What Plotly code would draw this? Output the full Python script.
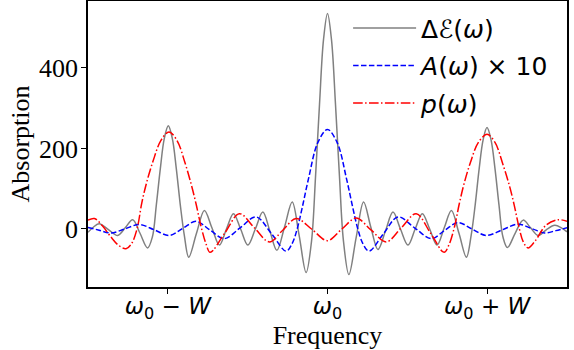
import plotly.graph_objects as go

# ---- data (x in units of W, relative to omega_0) ----
gray_x = [-1.5, -1.465, -1.43, -1.37, -1.314, -1.267, -1.22, -1.175, -1.127, -1.097, -1.072, -1.047,
          -1.022, -0.997, -0.972, -0.947, -0.922, -0.897, -0.869, -0.82, -0.771, -0.724, -0.677,
          -0.633, -0.589, -0.544, -0.499, -0.452, -0.405, -0.361, -0.317, -0.269, -0.221, -0.178,
          -0.134, -0.1, -0.075, -0.05, -0.025, 0.0, 0.025, 0.05, 0.075, 0.1, 0.134, 0.18, 0.226,
          0.271, 0.316, 0.363, 0.41, 0.457, 0.504, 0.549, 0.594, 0.64, 0.686, 0.731, 0.776, 0.823,
          0.87, 0.9, 0.925, 0.95, 0.975, 0.999, 1.024, 1.049, 1.074, 1.099, 1.127, 1.176, 1.225,
          1.272, 1.319, 1.37, 1.423, 1.465, 1.5]
gray_y = [-8, 5, 13, -2, -16, 3, 23, -10, -47, -20, 60, 150,
          225, 256, 225, 150, 60, -15, -70, -10, 46, 3, -40,
          0, 38, 0, -40, 0, 42, -5, -53, 5, 67, -15,
          -108, -30, 130, 310, 470, 535, 470, 310, 130, -30, -113, -20, 67,
          5, -51, -5, 42, 0, -40, 0, 38, 0, -40, 3, 46, -10,
          -70, -15, 60, 150, 222, 252, 222, 150, 60, -20, -46, -10, 22,
          3, -16, -2, 9, 3, -7]

blue_x = [-1.5, -1.43, -1.356, -1.27, -1.179, -1.085, -0.99, -0.905, -0.823, -0.735, -0.646,
          -0.547, -0.447, -0.35, -0.259, -0.22, -0.19, -0.16, -0.12, -0.06, 0.0, 0.06, 0.12,
          0.16, 0.19, 0.22, 0.26, 0.35, 0.441, 0.545, 0.65, 0.735, 0.817, 0.905, 0.995, 1.095,
          1.194, 1.28, 1.36, 1.43, 1.5]
blue_y = [4, -3, -10, 0, 11, -2, -16, 2, 19, -3, -24,
          3, 30, -12, -55, -35, 0, 50, 123, 215, 247, 215, 123,
          50, 0, -35, -55, -12, 30, 3, -24, -3, 16, 0, -16, -2,
          12, 1, -10, -4, 3]

red_x = [-1.5, -1.46, -1.41, -1.36, -1.31, -1.262, -1.228, -1.193, -1.163, -1.133, -1.093,
         -1.043, -0.993, -0.943, -0.893, -0.853, -0.823, -0.793, -0.76, -0.735, -0.643, -0.552,
         -0.458, -0.364, -0.28, -0.196, -0.1, 0.0, 0.09, 0.18, 0.274, 0.368, 0.462, 0.556, 0.645,
         0.73, 0.76, 0.795, 0.825, 0.855, 0.895, 0.945, 0.999, 1.049, 1.099, 1.139, 1.169, 1.199,
         1.226, 1.256, 1.3, 1.37, 1.444, 1.5]
red_y = [22, 26, 8, -18, -40, -49, -37, 0, 65, 115, 168,
         220, 241, 220, 165, 110, 62, 8, -38, -58, -10, 38,
         3, -32, -3, 26, 0, -29, 0, 27, -3, -32, 3, 38, -10,
         -58, -40, 5, 62, 112, 165, 215, 235, 215, 160, 108, 60, 5,
         -32, -47, -30, 10, 23, 19]

series_names = ["Δ<i>ℰ</i>(<i>ω</i>)", "<i>A</i>(<i>ω</i>) × 10", "<i>p</i>(<i>ω</i>)"]
xtick_vals = [-1, 0, 1]
xtick_text = ["<i>ω</i><sub>0</sub> − <i>W</i>", "<i>ω</i><sub>0</sub>", "<i>ω</i><sub>0</sub> + <i>W</i>"]
ytick_vals = [0, 200, 400]

fig = go.Figure()
fig.add_trace(go.Scatter(x=gray_x, y=gray_y, mode="lines", name=series_names[0], legendgroup="a",
                         line=dict(color="#808080", width=1.5, shape="spline", smoothing=1.0)))
fig.add_trace(go.Scatter(x=blue_x, y=blue_y, mode="lines", name=series_names[1], legendgroup="b",
                         line=dict(color="#0000ff", width=1.5, dash="5.5px,2.4px", shape="spline", smoothing=1.0)))
fig.add_trace(go.Scatter(x=red_x, y=red_y, mode="lines", name=series_names[2], legendgroup="c",
                         line=dict(color="#ff0000", width=1.5, dash="9.6px,2.4px,1.5px,2.4px", shape="spline", smoothing=1.0)))

fig.update_layout(
    width=574, height=350,
    margin=dict(l=88, r=7, t=1, b=63, autoexpand=False),
    paper_bgcolor="white", plot_bgcolor="white",
    showlegend=True,
    legend=dict(x=0.543, y=0.985, xanchor="left", yanchor="top",
                bgcolor="rgba(0,0,0,0)", font=dict(family="DejaVu Sans", size=25, color="black"),
                itemwidth=63, tracegroupgap=2),
    xaxis=dict(range=[-1.5, 1.5], tickvals=xtick_vals, ticktext=xtick_text, automargin=False,
               showgrid=False, zeroline=False, showline=True, linecolor="black", linewidth=1.5,
               mirror=True, ticks="outside", ticklen=5, tickwidth=1, tickcolor="black",
               ticklabelstandoff=-7,
               tickfont=dict(family="DejaVu Sans", size=23, color="black"),
               title=dict(text="Frequency", font=dict(family="Liberation Serif", size=26, color="black"), standoff=0)),
    yaxis=dict(range=[-144, 566], tickvals=ytick_vals, automargin=False,
               showgrid=False, zeroline=False, showline=True, linecolor="black", linewidth=1.5,
               mirror=True, ticks="outside", ticklen=5, tickwidth=1, tickcolor="black",
               ticklabelstandoff=-2,
               tickfont=dict(family="Liberation Serif", size=26, color="black"),
               title=dict(text="Absorption", font=dict(family="Liberation Serif", size=26, color="black"), standoff=2)),
)

fig.write_html("out.html", config={"displayModeBar": False},
               post_script="document.body.style.margin='0';document.body.style.overflow='hidden';")
